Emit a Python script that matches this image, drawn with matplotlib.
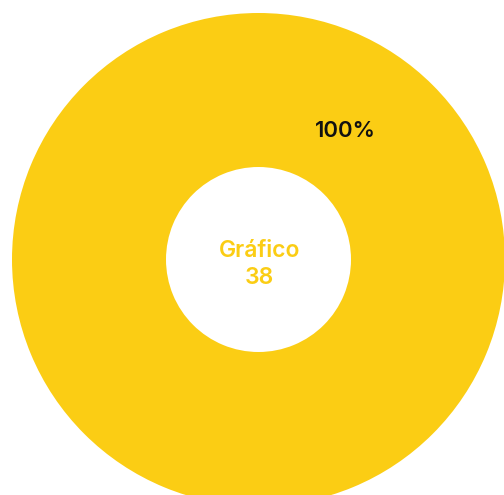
import matplotlib
matplotlib.use("Agg")
import matplotlib.pyplot as plt

labels = ["Gráfico 38"]
values = [100]
colors = ["#FBCD14"]
center_text = "Gráfico\n38"

W, H = 504, 495
fig = plt.figure(figsize=(W / 100, H / 100), dpi=100)
ax = fig.add_axes([0, 0, 1, 1])

cx, cy = 258.5, H - 259.5
outer, inner = 246.5, 92.5

wedges, texts, autotexts = ax.pie(
    values,
    colors=colors,
    center=(cx, cy),
    radius=outer,
    startangle=-124,
    autopct="%1.0f%%",
    pctdistance=0.63,
    wedgeprops=dict(width=outer - inner, linewidth=0),
    textprops=dict(fontsize=16, fontweight="semibold", family="Inter", color="#111111"),
    frame=True,
)
ax.set_xlim(0, W)
ax.set_ylim(0, H)
ax.set_aspect("equal")
ax.axis("off")

ax.text(cx + 1, cy - 5, center_text, ha="center", va="center",
        fontsize=16.5, fontweight="semibold", family="Inter", color="#FBCD14",
        linespacing=1.25)

fig.savefig("out.png", dpi=100)
